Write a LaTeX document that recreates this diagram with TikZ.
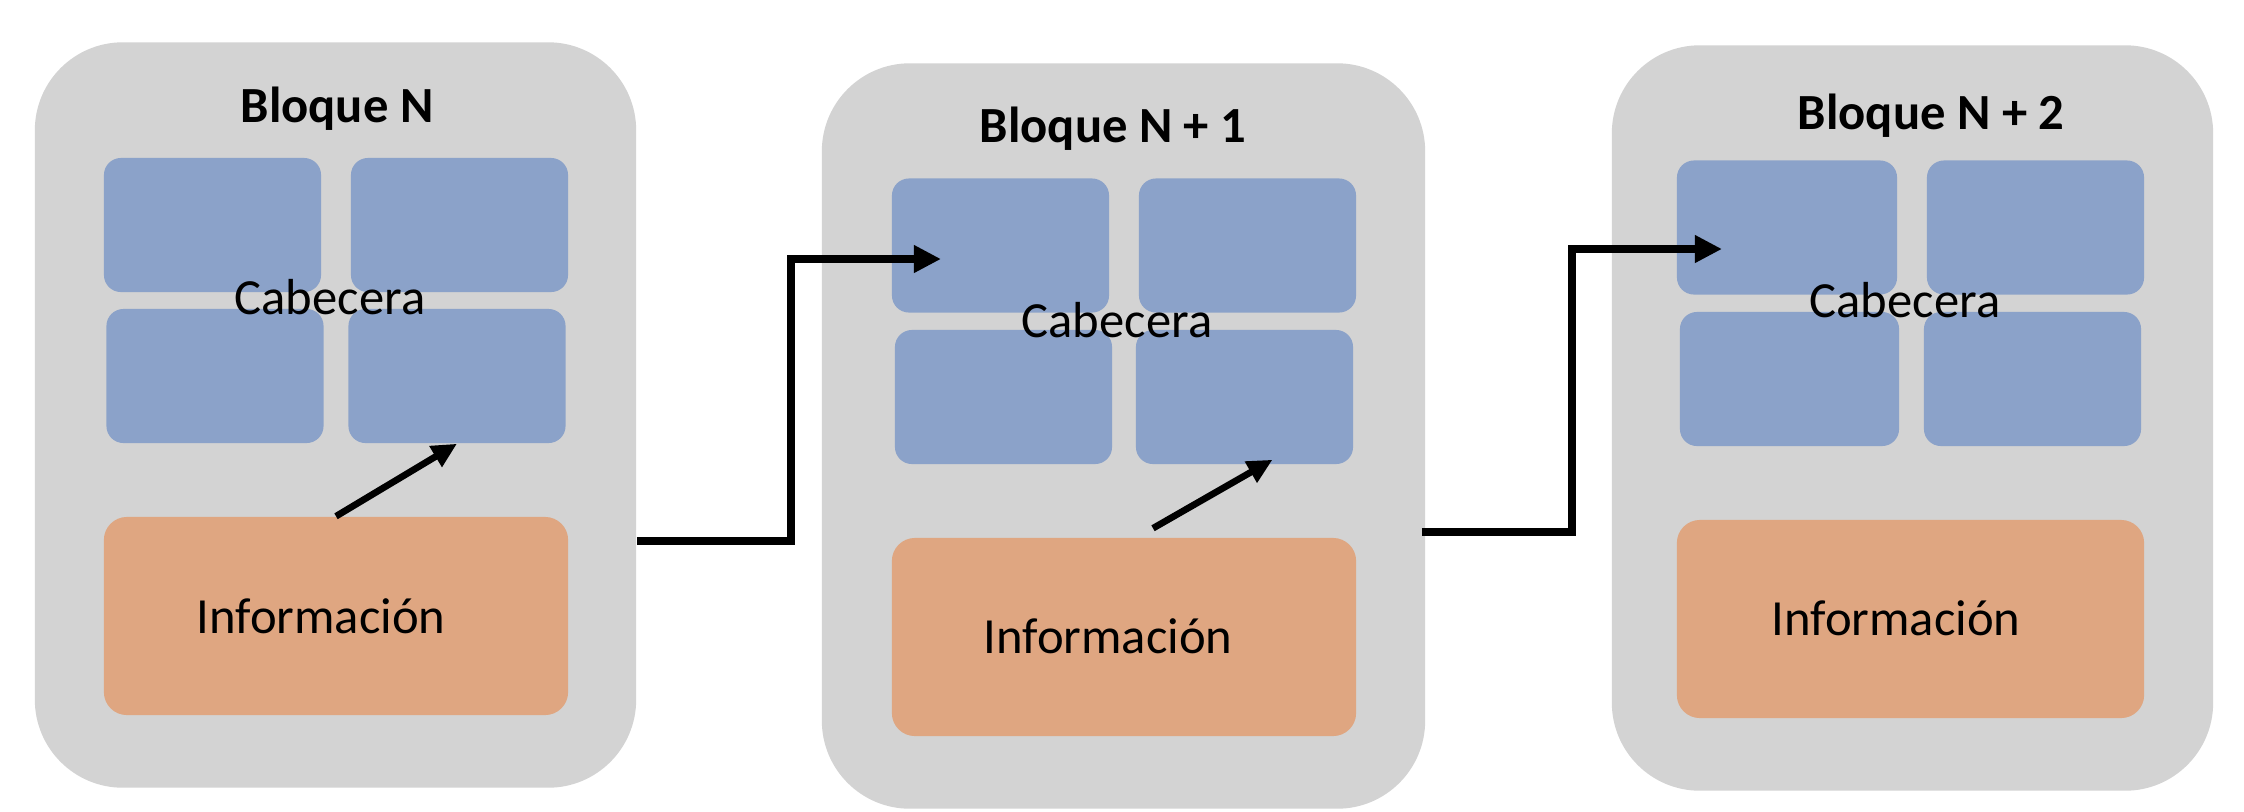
\documentclass[tikz,border=0pt]{standalone}
\usepackage{fontspec}
\setmainfont{Carlito}
\usetikzlibrary{arrows.meta}
\definecolor{blockgray}{RGB}{211,211,211}
\definecolor{headblue}{RGB}{139,162,201}
\definecolor{infoorange}{RGB}{223,166,129}
\begin{document}
\begin{tikzpicture}[x=0.01cm,y=-0.01cm]
      \tikzset{bloque/.style={inner sep=0pt,
          minimum width=#1,
          minimum height=7.45cm,
          fill=blockgray,
          rounded corners=0.88cm},
        celda/.style={inner sep=0pt,
          minimum width=#1,
          minimum height=1.34cm,
          fill=headblue,
          rounded corners=0.17cm},
        info/.style={inner sep=0pt,
          minimum width=#1,
          minimum height=1.98cm,
          fill=infoorange,
          rounded corners=0.23cm},
        texto/.style={font=\fontsize{14.4}{17}\selectfont},
        titulo/.style={font=\fontsize{14.4}{17}\selectfont\bfseries},
        enlace/.style={line width=2.3pt,-{Triangle[length=0.27cm,width=0.26cm]}},
        flecha/.style={line width=1.9pt,-{Triangle[length=0.25cm,width=0.23cm]}}
      }
      \useasboundingbox (0,0) rectangle (2244,811);
      % Bloque N
      \node [bloque=6.01cm] (B0) at (335.5,415) {};
      \node [celda=2.17cm] (B0a) at (212.5,225) {};
      \node [celda=2.17cm] (B0b) at (459.5,225) {};
      \node [celda=2.17cm] (B0c) at (215,376) {};
      \node [celda=2.17cm] (B0d) at (457,376) {};
      \node [info=4.64cm] (I0) at (336,616) {};
      \node [titulo] (T0) at (337,109) {Bloque N};
      \node [texto] (C0) at (330,297) {Cabecera};
      \node [texto] (D0) at (321,616) {Información};
      % Bloque N + 1
      \node [bloque=6.03cm] (B1) at (1123.5,436) {};
      \node [celda=2.17cm] (B1a) at (1000.5,245.5) {};
      \node [celda=2.17cm] (B1b) at (1247.5,245.5) {};
      \node [celda=2.17cm] (B1c) at (1003.5,397) {};
      \node [celda=2.17cm] (B1d) at (1244.5,397) {};
      \node [info=4.64cm] (I1) at (1124,637) {};
      \node [titulo] (T1) at (1113,129) {Bloque N + 1};
      \node [texto] (C1) at (1117,320) {Cabecera};
      \node [texto] (D1) at (1108,636) {Información};
      % Bloque N + 2
      \node [bloque=6.01cm] (B2) at (1912.5,418) {};
      \node [celda=2.20cm] (B2a) at (1787,227.5) {};
      \node [celda=2.17cm] (B2b) at (2035.5,227.5) {};
      \node [celda=2.19cm] (B2c) at (1789.5,379) {};
      \node [celda=2.17cm] (B2d) at (2032.5,379) {};
      \node [info=4.67cm] (I2) at (1910.5,619) {};
      \node [titulo] (T2) at (1931,116) {Bloque N + 2};
      \node [texto] (C2) at (1905,300) {Cabecera};
      \node [texto] (D2) at (1896,618) {Información};
      % enlaces
      \coordinate (P0) at (B0.east |- 0,541);
      \coordinate (Q0) at (941,259);
      \coordinate (P1) at ([xshift=-0.04cm]B1.east |- 0,532);
      \coordinate (Q1) at (1722,249);
      \draw [enlace] (P0) -- (791,541) |- (Q0);
      \draw [enlace] (P1) -- (1572,532) |- (Q1);
      \draw [flecha] (I0.north) -- (B0d.south);
      \draw [flecha] ([xshift=0.29cm,yshift=0.09cm]I1.north) -- ([xshift=0.28cm,yshift=0.05cm]B1d.south);
    \end{tikzpicture}
\end{document}
